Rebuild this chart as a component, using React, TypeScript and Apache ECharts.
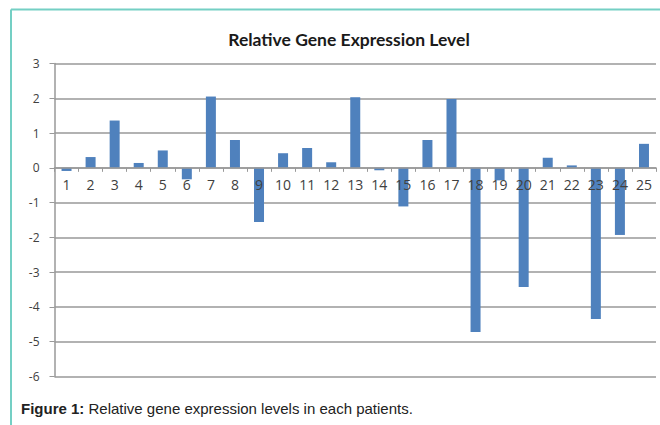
import React, { useEffect, useRef } from "react";
import * as echarts from "echarts";

const categories: string[] = [
  "1", "2", "3", "4", "5", "6", "7", "8", "9", "10", "11", "12", "13",
  "14", "15", "16", "17", "18", "19", "20", "21", "22", "23", "24", "25",
];
const expressionValues: number[] = [
  -0.09, 0.31, 1.36, 0.14, 0.5, -0.33, 2.05, 0.8, -1.56, 0.42, 0.57, 0.16, 2.03,
  -0.07, -1.11, 0.8, 1.98, -4.72, -0.36, -3.43, 0.29, 0.07, -4.35, -1.93, 0.69,
];
const chartTitle = "Relative Gene Expression Level";
const captionBold = "Figure 1:";
const captionText = " Relative gene expression levels in each patients.";

const Y_MIN = -6;
const Y_MAX = 3;

export default function App() {
  const ref = useRef<HTMLDivElement>(null);
  useEffect(() => {
    if (!ref.current) return;
    const chart = echarts.init(ref.current, null, { renderer: "svg" });
    const gridColor = "#999999";
    const gridTop = 63.5;
    const gridBottom = 48.5;
    const plotH = 425 - gridTop - gridBottom;
    // move the category axis up to the zero line (Excel style)
    const zeroOffset = -(plotH * (0 - Y_MIN)) / (Y_MAX - Y_MIN);
    chart.setOption({
      animation: false,
      backgroundColor: "#ffffff",
      title: {
        text: chartTitle,
        left: 344,
        top: 25,
        textAlign: "center",
        textStyle: {
          fontFamily: "Lato",
          fontWeight: "bold",
          fontSize: 17.5,
          color: "#1a1a1a",
        },
      },
      grid: { left: 54.5, right: 4, top: gridTop, bottom: gridBottom, containLabel: false },
      xAxis: {
        type: "category",
        data: categories,
        z: 10,
        position: "bottom",
        offset: zeroOffset,
        axisLine: { onZero: false, lineStyle: { color: gridColor, width: 1.5 } },
        axisTick: { show: true, length: 4, lineStyle: { color: gridColor } },
        axisLabel: {
          interval: 0,
          margin: 10,
          fontSize: 14,
          fontFamily: "Open Sans",
          color: "#404040",
        },
        splitLine: { show: false },
      },
      yAxis: {
        type: "value",
        min: Y_MIN,
        max: Y_MAX,
        interval: 1,
        axisLine: { show: true, lineStyle: { color: gridColor, width: 1.5 } },
        axisTick: { show: true, length: 5, lineStyle: { color: gridColor } },
        axisLabel: {
          margin: 15,
          fontSize: 12,
          fontFamily: "Open Sans",
          color: "#404040",
        },
        splitLine: { show: true, lineStyle: { color: gridColor, width: 1.5 } },
      },
      series: [
        {
          type: "bar",
          data: expressionValues,
          barWidth: 10,
          itemStyle: { color: "#4f81bd" },
        },
      ],
      graphic: [
        {
          type: "line",
          shape: { x1: 11, y1: 9.5, x2: 660, y2: 9.5 },
          style: { stroke: "#74cfc4", lineWidth: 2 },
        },
        {
          type: "line",
          shape: { x1: 11, y1: 9.5, x2: 11, y2: 425 },
          style: { stroke: "#74cfc4", lineWidth: 2 },
        },
        {
          type: "text",
          x: 21,
          y: 408,
          style: {
            text: "{b|" + captionBold + "}{n|" + captionText + "}",
            verticalAlign: "middle",
            rich: {
              b: {
                fontFamily: "Liberation Sans",
                fontWeight: "bold",
                fontSize: 15,
                fill: "#222222",
              },
              n: {
                fontFamily: "Liberation Sans",
                fontSize: 15,
                fill: "#222222",
              },
            },
          },
        },
      ],
    });
    return () => chart.dispose();
  }, []);
  return (
    <div
      ref={ref}
      style={{ position: "absolute", left: 0, top: 0, width: 660, height: 425 }}
    />
  );
}
